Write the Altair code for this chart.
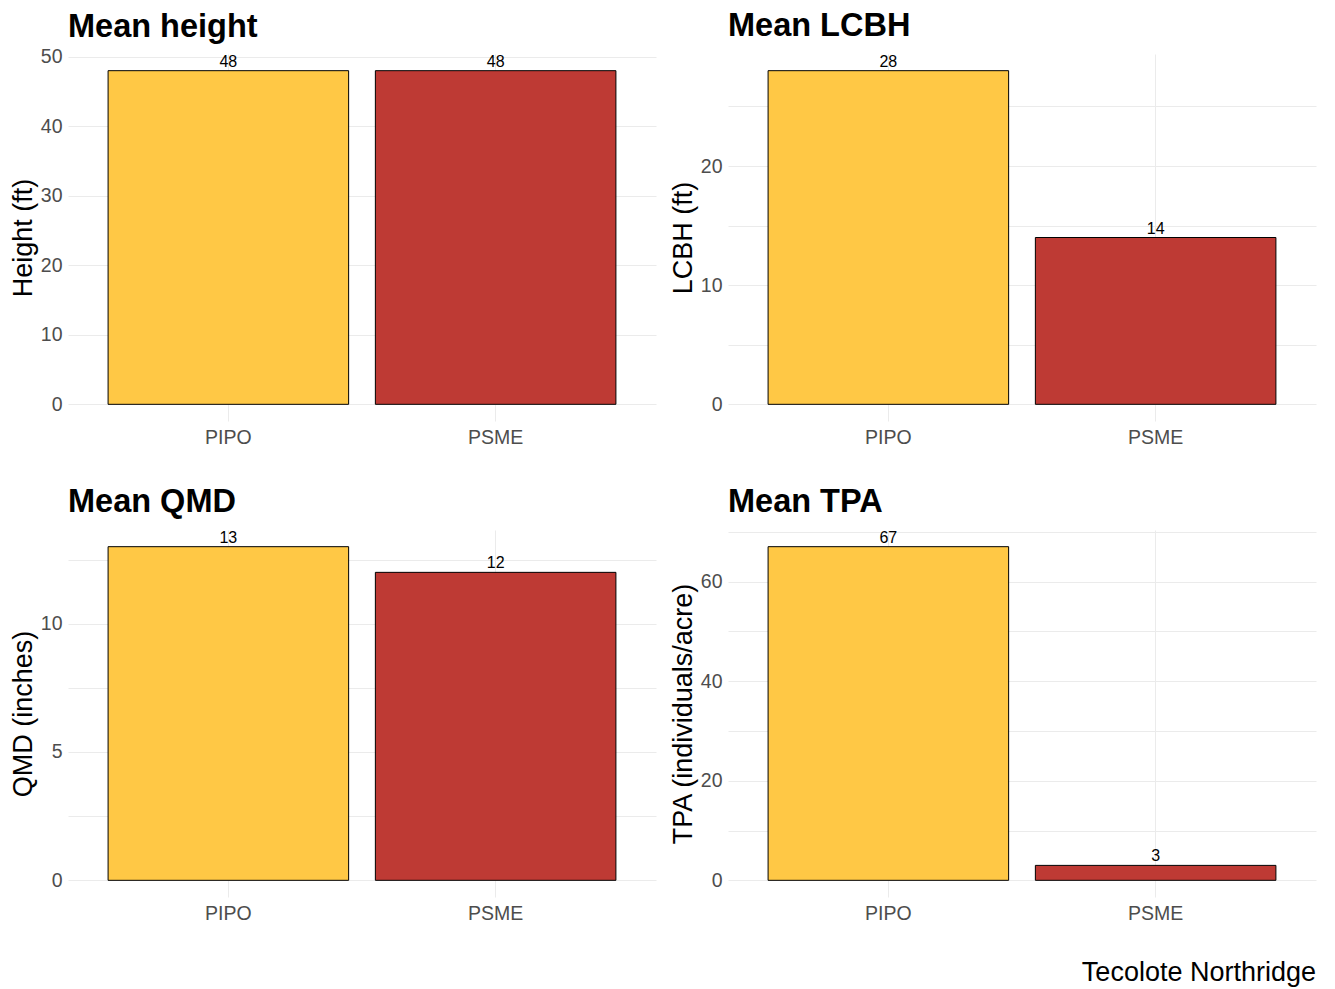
import json
import altair as alt
import pandas as pd

# ---------------- data ----------------
species = ["PIPO", "PSME"]
colors = ["#FFC845", "#BE3A34"]

height_vals = [48, 48]
lcbh_vals = [28, 14]
qmd_vals = [13, 12]
tpa_vals = [67, 3]

height_grid = [0, 5, 10, 15, 20, 25, 30, 35, 40, 45, 50]
height_major = [0, 10, 20, 30, 40, 50]
lcbh_grid = [0, 5, 10, 15, 20, 25]
lcbh_major = [0, 10, 20]
qmd_grid = [0, 2.5, 5, 7.5, 10, 12.5]
qmd_major = [0, 5, 10]
tpa_grid = [0, 10, 20, 30, 40, 50, 60, 70]
tpa_major = [0, 20, 40, 60]

panels = [
    ("Mean height", "Height (ft)", height_vals, height_grid, height_major, -23),
    ("Mean LCBH", "LCBH (ft)", lcbh_vals, lcbh_grid, lcbh_major, -15),
    ("Mean QMD", "QMD (inches)", qmd_vals, qmd_grid, qmd_major, -15),
    ("Mean TPA", "TPA (individuals/acre)", tpa_vals, tpa_grid, tpa_major, -15),
]

FONT = "Liberation Sans"
W, H = 588, 367


def make_panel(title, ytitle, vals, grid, major, toff):
    df = pd.DataFrame({"species": species, "value": vals})
    vmax = max(vals)
    dom = [-0.05 * vmax, 1.05 * vmax]
    label_expr = (
        f"indexof({json.dumps(major)}, datum.value) >= 0 ? format(datum.value, 'd') : ''"
    )
    base = alt.Chart(df).encode(
        x=alt.X(
            "species:N",
            sort=species,
            scale=alt.Scale(paddingInner=0.1, paddingOuter=0.15),
            axis=alt.Axis(
                title=None,
                labelAngle=0,
                grid=True,
                bandPosition=0.5,
                ticks=False,
                domain=False,
                labelFontSize=19.5,
                labelColor="#4D4D4D",
                labelPadding=7,
                labelFont=FONT,
                gridColor="#EBEBEB",
                gridWidth=1,
            ),
        )
    )
    yscale = alt.Scale(domain=dom, nice=False, zero=False)
    bars = base.mark_bar(stroke="black", strokeWidth=1).encode(
        y=alt.Y(
            "value:Q",
            scale=yscale,
            axis=alt.Axis(
                title=ytitle,
                values=grid,
                labelExpr=label_expr,
                grid=True,
                gridColor="#EBEBEB",
                gridWidth=1,
                domain=False,
                ticks=False,
                labelPadding=6,
                labelFontSize=19.5,
                labelColor="#4D4D4D",
                labelFont=FONT,
                titleFont=FONT,
                titleFontSize=27,
                titleFontWeight="normal",
                titleColor="black",
                titleAngle=270,
                titleBaseline="alphabetic",
                titleAlign="center",
                titleX=-37,
                titleY=H / 2,
            ),
        ),
        y2=alt.datum(0),
        color=alt.Color(
            "species:N",
            scale=alt.Scale(domain=species, range=colors),
            legend=None,
        ),
    )
    text = base.mark_text(
        baseline="alphabetic", dy=-4, fontSize=16, font=FONT, color="black"
    ).encode(y=alt.Y("value:Q", scale=yscale), text=alt.Text("value:Q"))
    return alt.layer(bars, text).properties(
        width=W,
        height=H,
        title=alt.TitleParams(
            title,
            anchor="start",
            frame="group",
            fontSize=32.5,
            fontWeight="bold",
            font=FONT,
            color="black",
            baseline="alphabetic",
            offset=toff,
        ),
    )


charts = [make_panel(*p) for p in panels]

chart = (
    alt.concat(
        *charts,
        columns=2,
        spacing={"row": 109, "column": 72},
        bounds="flush",
    )
    .properties(
        title=alt.TitleParams(
            "Tecolote Northridge",
            orient="bottom",
            anchor="end",
            frame="bounds",
            fontSize=27,
            fontWeight="normal",
            font=FONT,
            color="black",
            offset=37,
        ),
        padding={"left": 1, "top": 2, "right": 5, "bottom": 2},
    )
    .configure_view(stroke=None)
)

chart.save("out.html", embed_options={"renderer": "svg", "actions": False})
